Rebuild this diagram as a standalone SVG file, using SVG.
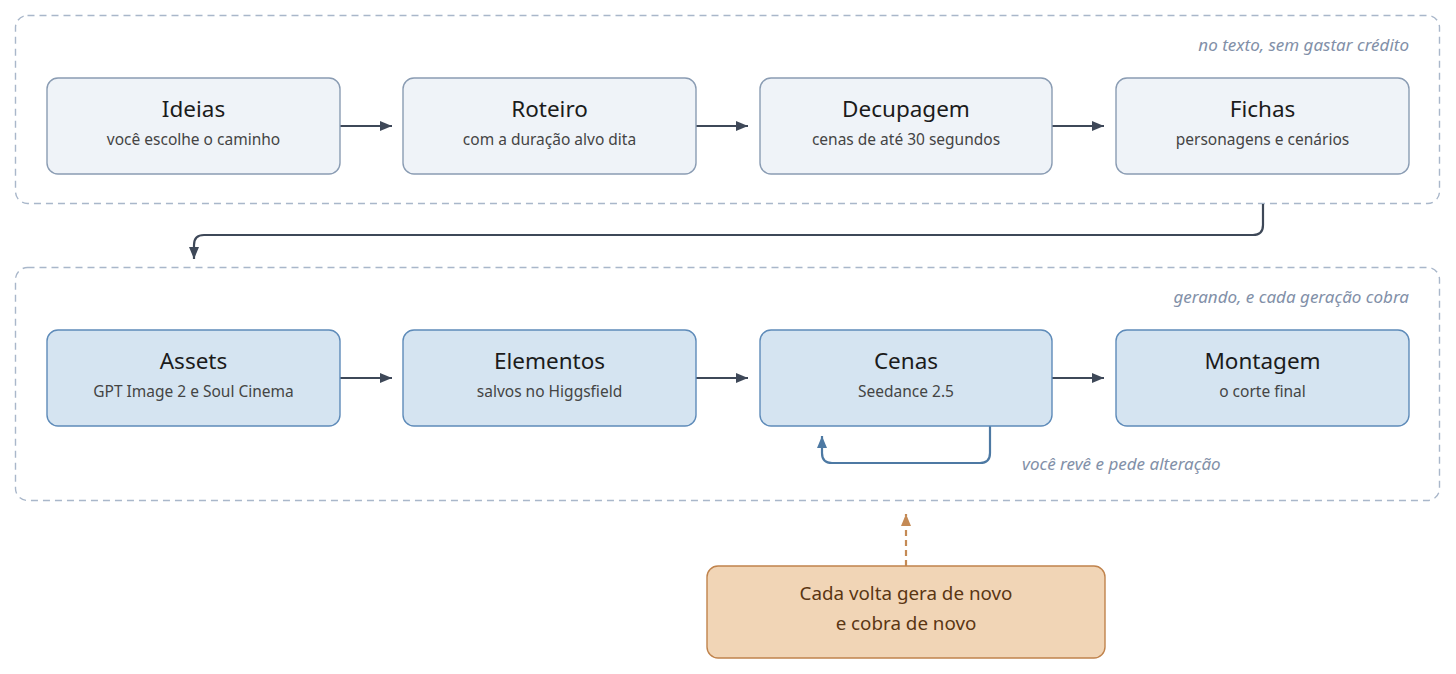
<svg xmlns="http://www.w3.org/2000/svg" width="1456" height="674" viewBox="0 0 1456 674">
<defs>
<style>
.frame{fill:#fff;stroke:#a9b7ca;stroke-width:1.4;stroke-dasharray:7 5}
.n1{fill:#eff3f8;stroke:#8a9cb3;stroke-width:1.4}
.n2{fill:#d5e4f1;stroke:#5e8bb9;stroke-width:1.4}
.n3{fill:#f1d5b6;stroke:#c0834c;stroke-width:1.4}
.t{font-family:"Noto Sans","Open Sans",sans-serif;font-size:22.5px;fill:#1b1b1b;text-anchor:middle}
.s{font-family:"Noto Sans","Open Sans",sans-serif;font-size:15.5px;fill:#444;text-anchor:middle}
.o{font-family:"Noto Sans","Open Sans",sans-serif;font-size:18.8px;fill:#5a3613;text-anchor:middle}
.note{font-family:"Noto Sans","Open Sans",sans-serif;font-size:17px;font-style:italic;fill:#8290a8}
.c{fill:none;stroke:#3e4858;stroke-width:2.2}
.cb{fill:none;stroke:#4d79a3;stroke-width:2.2}
.co{fill:none;stroke:#c48a55;stroke-width:2.2;stroke-dasharray:6 4}
</style>
<marker id="ad" viewBox="0 0 12 10" refX="12" refY="5" markerWidth="12" markerHeight="10" markerUnits="userSpaceOnUse" orient="auto"><path d="M0,0 L12,5 L0,10 z" fill="#3e4858"/></marker>
<marker id="ab" viewBox="0 0 12 10" refX="12" refY="5" markerWidth="12" markerHeight="10" markerUnits="userSpaceOnUse" orient="auto"><path d="M0,0 L12,5 L0,10 z" fill="#4d79a3"/></marker>
<marker id="ao" viewBox="0 0 12 10" refX="12" refY="5" markerWidth="12" markerHeight="10" markerUnits="userSpaceOnUse" orient="auto"><path d="M0,0 L12,5 L0,10 z" fill="#c48a55"/></marker>
</defs>
<rect width="1456" height="674" fill="#fff"/>
<g id="frame-top">
<rect class="frame" x="15.5" y="15.5" width="1424" height="188" rx="12"/>
<text class="note" x="1409" y="51" text-anchor="end">no texto, sem gastar crédito</text>
</g>
<g id="frame-bottom">
<rect class="frame" x="15.5" y="267.5" width="1424" height="233" rx="12"/>
<text class="note" x="1409" y="303" text-anchor="end">gerando, e cada geração cobra</text>
</g>
<g id="connectors">
<path class="c" d="M340,126 H392" marker-end="url(#ad)"/>
<path class="c" d="M696,126 H748" marker-end="url(#ad)"/>
<path class="c" d="M1052,126 H1104" marker-end="url(#ad)"/>
<path class="c" d="M1263,204 V225 Q1263,235 1253,235 H204 Q194,235 194,245 V259" marker-end="url(#ad)"/>
<path class="c" d="M340,378 H392" marker-end="url(#ad)"/>
<path class="c" d="M696,378 H748" marker-end="url(#ad)"/>
<path class="c" d="M1052,378 H1104" marker-end="url(#ad)"/>
<path class="cb" d="M990,426 V453 Q990,463 980,463 H832 Q822,463 822,453 V436" marker-end="url(#ab)"/>
<path class="co" d="M906,566 V514" marker-end="url(#ao)"/>
<text class="note" x="1022" y="470">você revê e pede alteração</text>
</g>
<g id="ideias"><rect class="n1" x="47" y="78" width="293" height="96" rx="11"/><text class="t" x="193.5" y="117">Ideias</text><text class="s" x="193.5" y="145">você escolhe o caminho</text></g>
<g id="roteiro"><rect class="n1" x="403" y="78" width="293" height="96" rx="11"/><text class="t" x="549.5" y="117">Roteiro</text><text class="s" x="549.5" y="145">com a duração alvo dita</text></g>
<g id="decupagem"><rect class="n1" x="760" y="78" width="292" height="96" rx="11"/><text class="t" x="906" y="117">Decupagem</text><text class="s" x="906" y="145">cenas de até 30 segundos</text></g>
<g id="fichas"><rect class="n1" x="1116" y="78" width="293" height="96" rx="11"/><text class="t" x="1262.5" y="117">Fichas</text><text class="s" x="1262.5" y="145">personagens e cenários</text></g>
<g id="assets"><rect class="n2" x="47" y="330" width="293" height="96" rx="11"/><text class="t" x="193.5" y="369">Assets</text><text class="s" x="193.5" y="397">GPT Image 2 e Soul Cinema</text></g>
<g id="elementos"><rect class="n2" x="403" y="330" width="293" height="96" rx="11"/><text class="t" x="549.5" y="369">Elementos</text><text class="s" x="549.5" y="397">salvos no Higgsfield</text></g>
<g id="cenas"><rect class="n2" x="760" y="330" width="292" height="96" rx="11"/><text class="t" x="906" y="369">Cenas</text><text class="s" x="906" y="397">Seedance 2.5</text></g>
<g id="montagem"><rect class="n2" x="1116" y="330" width="293" height="96" rx="11"/><text class="t" x="1262.5" y="369">Montagem</text><text class="s" x="1262.5" y="397">o corte final</text></g>
<g id="aviso"><rect class="n3" x="707" y="566" width="398" height="92" rx="11"/><text class="o" x="906" y="600">Cada volta gera de novo</text><text class="o" x="906" y="630">e cobra de novo</text></g>
</svg>
